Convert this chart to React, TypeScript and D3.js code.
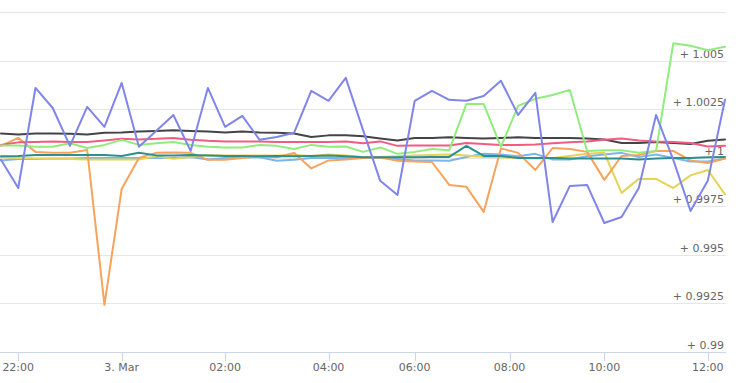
import React from "react";
import * as d3 from "d3";

const W = 736;
const H = 383;

// x categories are ordinal point indices (0..42); tick labels placed at these index positions
const tickPositions = [1, 7, 13, 19, 24, 29.5, 35, 41];
const tickLabels = ["22:00", "3. Mar", "02:00", "04:00", "06:00", "08:00", "10:00", "12:00"];

const yTicks = [0.99, 0.9925, 0.995, 0.9975, 1, 1.0025, 1.005, 1.0075];
const yTickLabels = ["+ 0.99", "+ 0.9925", "+ 0.995", "+ 0.9975", "+ 1", "+ 1.0025", "+ 1.005", ""];

const lightBlue = [0.99986,0.99994,0.99994,0.99996,0.99996,0.99999,0.99999,0.99999,0.99999,0.99999,0.99999,1.00004,0.99991,0.99999,1.00002,1.00002,0.99984,0.99989,0.99999,0.99999,0.99999,1.00002,0.99999,0.99994,0.99986,0.99986,0.99984,1.00004,1.0002,1.00017,1.00007,1.0002,0.99991,0.99991,1.00007,1.00017,1.00025,1.00004,1.00017,0.99999,0.99981,0.99981,0.99996];
const black = [1.00125,1.0012,1.00125,1.00125,1.00123,1.0012,1.00128,1.0013,1.00135,1.00138,1.00141,1.00138,1.00135,1.0013,1.00135,1.0013,1.00128,1.00125,1.00107,1.00115,1.00115,1.0011,1.00099,1.00089,1.00102,1.00102,1.00105,1.00102,1.00099,1.00102,1.00105,1.00102,1.00102,1.00102,1.00099,1.00094,1.00076,1.00076,1.00081,1.00076,1.00071,1.00087,1.00094];
const pink = [1.00066,1.00079,1.00081,1.00084,1.00081,1.00081,1.00089,1.00097,1.00094,1.00097,1.00102,1.00092,1.00087,1.00084,1.00084,1.00084,1.00081,1.00081,1.00081,1.00081,1.00084,1.00074,1.00084,1.00061,1.00063,1.00063,1.00063,1.00076,1.00071,1.00066,1.00066,1.00068,1.00074,1.00079,1.00084,1.00092,1.00099,1.00089,1.00084,1.00081,1.00076,1.00058,1.00061];
const green = [1.00063,1.00063,1.00056,1.00056,1.00074,1.0005,1.00066,1.00092,1.00066,1.00074,1.00081,1.00066,1.00056,1.00053,1.00053,1.00066,1.00061,1.00045,1.00066,1.00056,1.00058,1.0003,1.00053,1.0002,1.0003,1.00045,1.00038,1.00277,1.00277,1.00056,1.00267,1.00303,1.00323,1.00349,1.00035,1.00038,1.00038,1.00025,1.00035,1.00589,1.00576,1.00553,1.00571];
const orange = [1.00061,1.00102,1.0003,1.00025,1.00025,1.0004,0.99242,0.99839,0.99999,1.00025,1.00027,1.00025,0.99989,0.99989,0.99999,1.00007,1.00002,1.00025,0.99945,0.99986,0.99991,0.99999,1.00002,0.99984,0.99981,0.99978,0.9986,0.9985,0.99721,1.00048,1.00025,0.99937,1.0005,1.00045,1.0003,0.99886,1.00009,1.00014,1.00035,1.00035,0.99986,0.99973,0.99996];
const purple = [0.99989,0.99844,1.00359,1.00256,1.00061,1.00262,1.00159,1.00385,1.00056,1.00138,1.0022,1.00035,1.00359,1.00159,1.00215,1.00092,1.00107,1.00128,1.00344,1.00293,1.00411,1.00143,0.99881,0.99808,1.00293,1.00344,1.00298,1.00293,1.00318,1.00396,1.0022,1.00334,0.99669,0.99855,0.9986,0.99664,0.99695,0.99844,1.0022,0.99989,0.99726,0.99881,1.00298];
const yellow = [1.00002,0.99999,0.99996,0.99994,0.99994,0.99991,0.99991,0.99991,0.99991,1.00007,0.99994,1.00004,1.00014,1.00012,1.00012,1.00012,1.00012,1.00014,1.00009,1.00017,1.00012,1.00004,1.00004,1.00007,1.00012,1.00014,1.00017,1.00012,1.00004,1.00002,0.99999,0.99996,0.99999,1.00009,1.0002,1.00025,0.99819,0.99891,0.99891,0.99844,0.99909,0.99937,0.99811];
const teal = [1.00007,1.00009,1.00014,1.00014,1.00014,1.00014,1.00014,1.00009,1.00025,1.00012,1.00012,1.00014,1.00012,1.00009,1.00009,1.00007,1.00009,1.00007,1.00009,1.00012,1.00007,1.00002,1.00002,1.00002,1.00002,1.00004,1.00004,1.00061,1.00009,1.00009,0.99999,0.99999,0.99999,0.99996,0.99996,0.99996,0.99996,0.99991,0.99996,0.99999,0.99999,1.00002,1.00004];

const series = [
  { name: "lightBlue", data: lightBlue, color: "#7cb5ec" },
  { name: "yellow", data: yellow, color: "#e4d354" },
  { name: "orange", data: orange, color: "#f7a35c" },
  { name: "teal", data: teal, color: "#2b908f" },
  { name: "black", data: black, color: "#434348" },
  { name: "pink", data: pink, color: "#f15c80" },
  { name: "green", data: green, color: "#90ed7d" },
  { name: "purple", data: purple, color: "#8085e9" },
];

const FONT = "'DejaVu Sans', 'Lucida Grande', Arial, sans-serif";

export default function App() {
  const plotLeft = 0;
  const plotRight = 726;
  const x = d3.scaleLinear().domain([0, 42]).range([1, 725]);
  const y = d3.scaleLinear().domain([0.99, 1.0075]).range([352, 12]);
  const line = d3
    .line<number>()
    .x((_, i) => x(i))
    .y((d) => y(d));

  return (
    <svg
      width={W}
      height={H}
      style={{ position: "absolute", left: 0, top: 0, background: "#fff" }}
      fontFamily={FONT}
    >
      <rect x={0} y={0} width={W} height={H} fill="#ffffff" />
      {yTicks.map((t) =>
        t === 0.99 ? null : (
          <line
            key={"g" + t}
            x1={plotLeft}
            x2={plotRight}
            y1={Math.round(y(t)) + 0.5}
            y2={Math.round(y(t)) + 0.5}
            stroke="#e6e6e6"
            strokeWidth={1}
          />
        )
      )}
      {yTicks.map((t, i) => (
        <text
          key={"yl" + t}
          x={724}
          y={y(t) - 3}
          textAnchor="end"
          fontSize={11}
          fill="#666666"
        >
          {yTickLabels[i]}
        </text>
      ))}
      <line x1={plotLeft} x2={plotRight} y1={352.5} y2={352.5} stroke="#ccd6eb" strokeWidth={1} />
      {tickPositions.map((p, i) => (
        <g key={"xt" + i}>
          <line
            x1={Math.round(x(p)) + 0.5}
            x2={Math.round(x(p)) + 0.5}
            y1={352}
            y2={361}
            stroke="#ccd6eb"
            strokeWidth={1}
          />
          <text x={x(p)} y={371} textAnchor="middle" fontSize={11} fill="#666666">
            {tickLabels[i]}
          </text>
        </g>
      ))}
      {series.map((s) => (
        <path
          key={s.name}
          d={line(s.data) || ""}
          fill="none"
          stroke={s.color}
          strokeWidth={2}
          strokeLinejoin="round"
          strokeLinecap="round"
        />
      ))}
    </svg>
  );
}
